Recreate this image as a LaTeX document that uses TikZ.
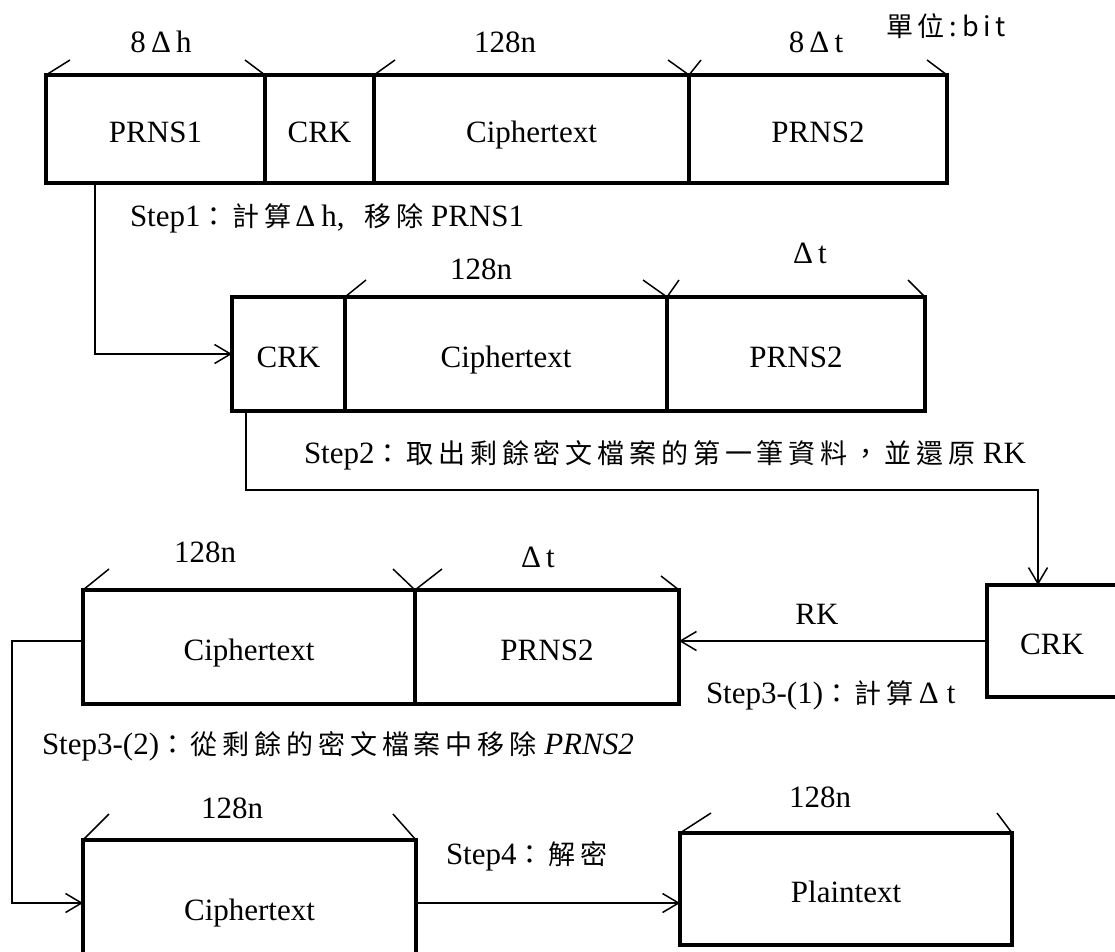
\documentclass[tikz,border=0pt]{standalone}
\usepackage{fontspec}
\setmainfont{Liberation Serif}
\newfontfamily\cjkfont[LetterSpace=18]{Noto Sans CJK TC}
\newcommand\cj[1]{{\fontsize{27pt}{32pt}\cjkfont #1}}
\usetikzlibrary{arrows.meta}
\begin{document}
\begin{tikzpicture}[x=1pt,y=-1pt,
  every node/.style={font=\fontsize{31pt}{37pt}\selectfont, inner sep=0pt, outer sep=0pt},
  cell/.style={draw, line width=4.5pt, fill=white, text height=27pt, text depth=0pt},
  conn/.style={line width=1.5pt},
  arr/.style={conn, -{Straight Barb[length=16pt,width=19pt,line width=1.5pt]}},
  tk/.style={line width=1.5pt},
  lbl/.style={}]
\useasboundingbox (0,0) rectangle (1115,951);
\clip (0,0) rectangle (1115,951);
\fill[white] (0,0) rectangle (1115,951);

% row 1
\node[cell, minimum width=219pt, minimum height=108pt] (a1) at (155.5,129) {PRNS1};
\node[cell, minimum width=109pt, minimum height=108pt] (a2) at (319.5,129) {CRK};
\node[cell, minimum width=315pt, minimum height=108pt] (a3) at (531.5,129) {Ciphertext};
\node[cell, minimum width=258pt, minimum height=108pt] (a4) at (818,129) {PRNS2};

% row 2
\node[cell, minimum width=113pt, minimum height=114pt] (b1) at (288.5,354) {CRK};
\node[cell, minimum width=322pt, minimum height=114pt] (b2) at (506,354) {Ciphertext};
\node[cell, minimum width=258pt, minimum height=114pt] (b3) at (796,354) {PRNS2};

% row 3
\node[cell, minimum width=332pt, minimum height=114pt] (c1) at (249,647) {Ciphertext};
\node[cell, minimum width=264pt, minimum height=114pt] (c2) at (547,647) {PRNS2};
\node[cell, minimum width=130pt, minimum height=112pt] (k) at (1052,641) {CRK};

% row 4
\node[cell, minimum width=333pt, minimum height=134pt] (d1) at (249.5,907) {Ciphertext};
\node[cell, minimum width=332pt, minimum height=112pt] (d2) at (846,889) {Plaintext};

% ticks row 1
\draw[tk] (a1.north west) -- ++(24,-15);
\draw[tk] (a1.north east) -- ++(-20,-15);
\draw[tk] (a3.north west) -- ++(21,-15);
\draw[tk] (a3.north east) ++(-21,-15) -- (a3.north east) -- ++(12,-15);
\draw[tk] (a4.north east) -- ++(-20,-15);
% ticks row 2
\draw[tk] (b2.north west) -- ++(21,-17);
\draw[tk] (b2.north east) ++(-24,-17) -- (b2.north east) -- ++(12,-17);
\draw[tk] (b3.north east) -- ++(-17,-17);
% ticks row 3
\draw[tk] (c1.north west) -- ++(26,-21);
\draw[tk] (c1.north east) ++(-22,-21) -- (c1.north east) -- ++(27,-21);
\draw[tk] (c2.north east) -- ++(-18,-14);
% ticks row 4
\draw[tk] (d1.north west) -- ++(26,-26);
\draw[tk] (d1.north east) -- ++(-23,-26);
\draw[tk] (d2.north west) -- ++(31,-20);
\draw[tk] (d2.north east) -- ++(-15,-20);

% labels
\node[lbl] (l1) at (161,42) {8\,Δ\,h};
\node[lbl] (l2) at (505,42) {128n};
\node[lbl] (l3) at (816,42) {8\,Δ\,t};
\node[lbl, anchor=west] (unit) at (886,26) {\cj{單位:bit}};
\node[lbl] (l4) at (481,269) {128n};
\node[lbl] (l5) at (810,253) {Δ\,t};
\node[lbl] (l6) at (205,552) {128n};
\node[lbl] (l7) at (538,557) {Δ\,t};
\node[lbl] (rk) at (817,614) {RK};
\node[lbl] (l8) at (232,808) {128n};
\node[lbl] (l9) at (820,797) {128n};

% step texts
\node[lbl, anchor=west] (s1) at (130,218) {Step1\cj{：計算}\hspace{4pt}Δ\hspace{6pt}h,\hspace{20pt}\cj{移除} PRNS1};
\node[lbl, anchor=west] (s2) at (304,455) {Step2\cj{：取出剩餘密文檔案的第一筆資料，並還原} RK};
\node[lbl, anchor=west] (s31) at (706,695) {Step3-(1)\cj{：計算}\,Δ\hspace{8pt}t};
\node[lbl, anchor=west] (s32) at (42,746) {Step3-(2)\cj{：從剩餘的密文檔案中移除} \textit{PRNS2}};
\node[lbl, anchor=west] (s4) at (446,856) {Step4\cj{：解密}};

% connectors
\draw[arr] ([xshift=49pt]a1.south west) |- (b1.west);
\draw[arr] ([xshift=14pt]b1.south west) -- ++(0,79) -| ([xshift=-14pt]k.north);
\draw[arr] (k.west) -- (k.west -| c2.east);
\draw[arr] ([yshift=6pt]c1.west) -- ++(-71,0) |- ([yshift=4pt]d1.west);
\draw[arr] ([yshift=4pt]d1.east) -- ([yshift=4pt]d1.east -| d2.west);
\end{tikzpicture}
\end{document}
